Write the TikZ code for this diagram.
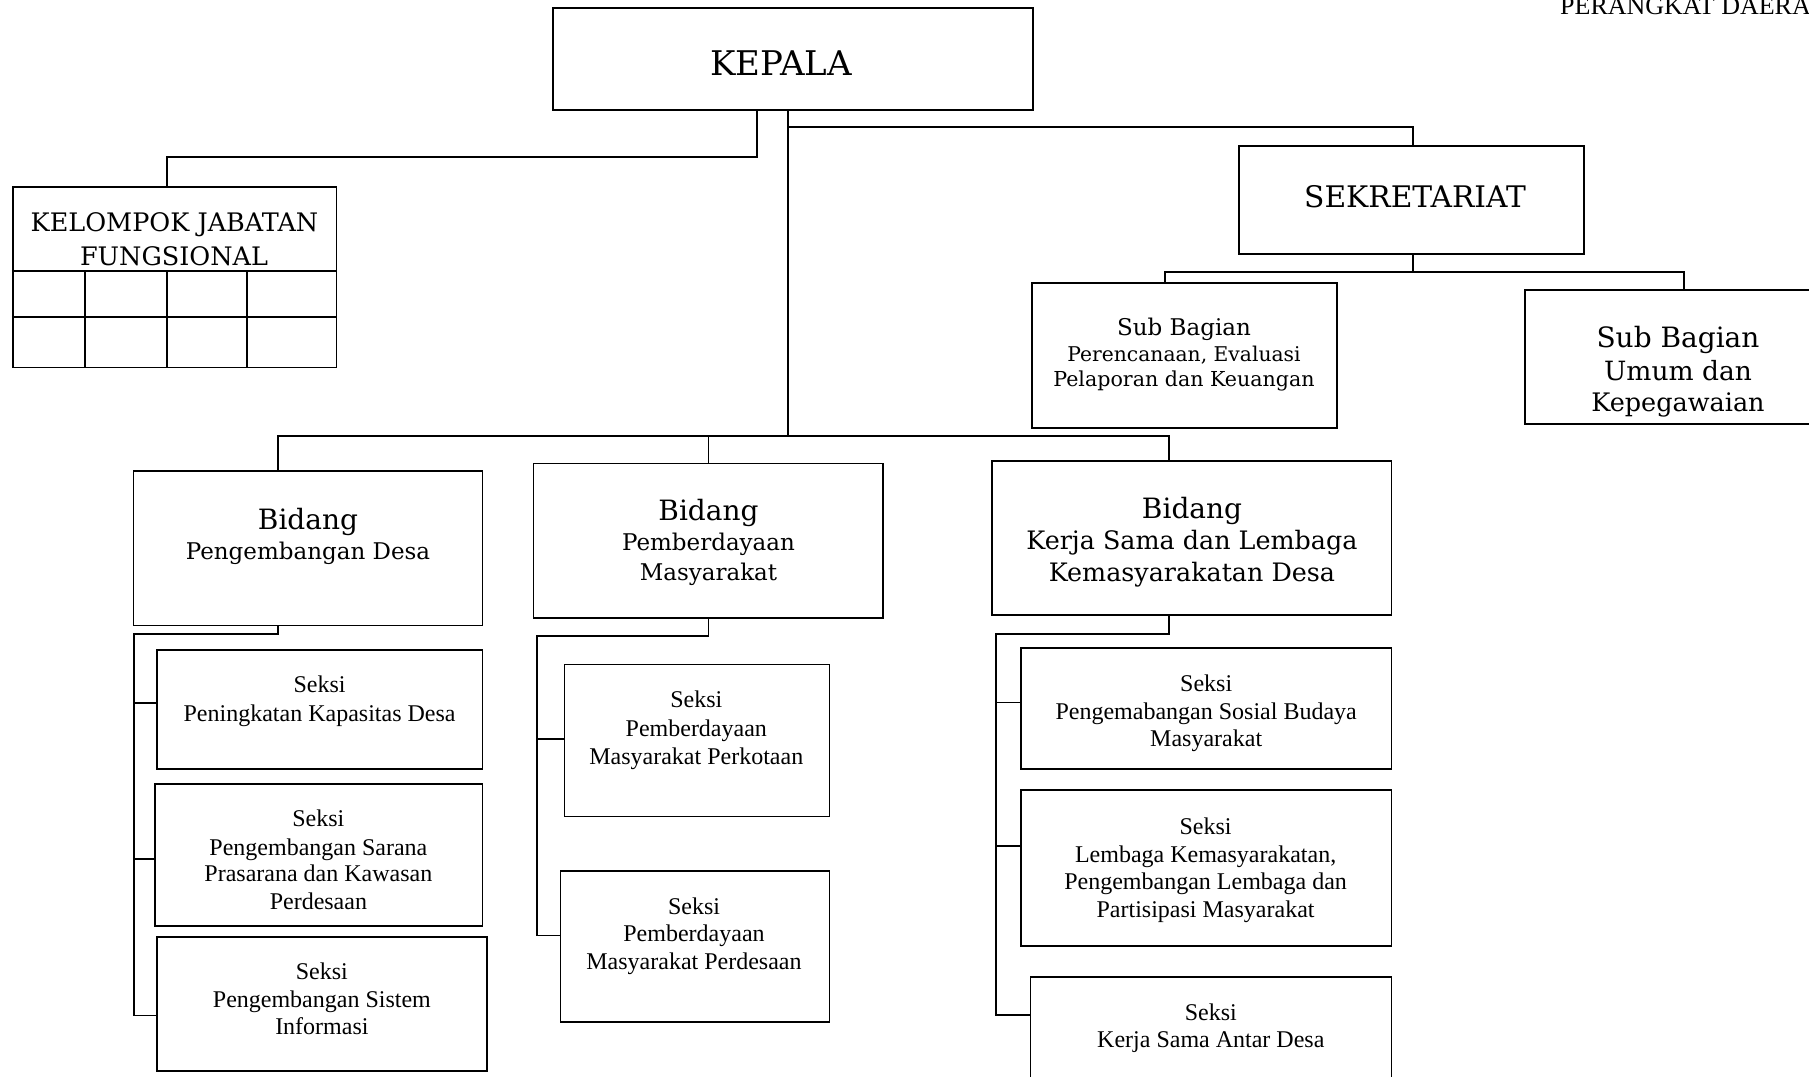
\documentclass[tikz,border=0pt]{standalone}
\usepackage{fontspec}
\setmainfont{Liberation Serif}
\newfontfamily\bkfam{DejaVu Serif}
\newcommand\BK[1]{\bkfam\fontsize{#1}{#1}\selectfont}
\newcommand\TM[1]{\rmfamily\fontsize{#1}{#1}\selectfont}
\tikzset{
  box/.style={draw, line width=1.8pt, inner sep=0pt, rectangle},
  conn/.style={line width=1.8pt},
  tl/.style={inner sep=0pt},
}
\newcommand\mytl[6]{\node[tl, font={#2{#3}}, anchor=base] (#1) at (#4,#5+0.35*#3) {#6};}
\begin{document}
\begin{tikzpicture}[x=1pt,y=-1pt]
\useasboundingbox (0,0) rectangle (1809,1076);
\fill[white] (0,0) rectangle (1809,1076);
\clip (0,0) rectangle (1809,1076);

% boxes
\node[box, minimum width=480, minimum height=102] (kepala) at (793,59) {};
\node[box, minimum width=323.8, minimum height=180.5] (kel) at (174.6,277.2) {};
\node[box, minimum width=345, minimum height=108] (sek) at (1411.5,200) {};
\node[box, minimum width=305, minimum height=145] (sb1) at (1184.5,355.5) {};
\node[box, minimum width=306, minimum height=134] (sb2) at (1678,357) {};
\node[box, minimum width=349, minimum height=154.5] (bid1) at (308,548.2) {};
\node[box, minimum width=349.5, minimum height=154.8] (bid2) at (708.2,540.9) {};
\node[box, minimum width=399.5, minimum height=154.2] (bid3) at (1191.7,538.1) {};
\node[box, minimum width=325.5, minimum height=118.7] (s11) at (319.7,709.3) {};
\node[box, minimum width=327.5, minimum height=141.3] (s12) at (318.7,855) {};
\node[box, minimum width=330, minimum height=133.6] (s13) at (322,1003.8) {};
\node[box, minimum width=265, minimum height=152] (s21) at (697,740.5) {};
\node[box, minimum width=269, minimum height=151.3] (s22) at (695,946.6) {};
\node[box, minimum width=370.5, minimum height=120.5] (s31) at (1206.2,708.4) {};
\node[box, minimum width=370.5, minimum height=155.9] (s32) at (1206.2,868.2) {};
\node[box, minimum width=361, minimum height=133.3] (s33) at (1211,1043.3) {};

% grid of kelompok
\draw[conn] (kel.west |- 0,271) -- (kel.east |- 0,271);
\draw[conn] (kel.west |- 0,317) -- (kel.east |- 0,317);
\foreach \gx in {85,166.7,246.7} \draw[conn] (\gx,271) -- (kel.south -| \gx,0);

% connectors
\coordinate (xk) at (757,157);
\draw[conn] (kepala.south -| xk) -- (xk) -| (kel.north -| 167,0);
\coordinate (bus) at (788,436);
\draw[conn] (kepala.south -| bus) -- (bus);
\coordinate (sj) at (788,127);
\draw[conn] (sj) -| (sek.north -| 1413,0);
\coordinate (sbj) at (1413,272);
\draw[conn] (sek.south -| sbj) -- (sbj);
\draw[conn] (sb1.north -| 1165,0) -- (1165,272) -- (1684,272) -- (sb2.north -| 1684,0);
\draw[conn] (bid1.north -| 278,0) -- (278,436) -- (1169,436) -- (bid3.north -| 1169,0);
\draw[conn] (bid2.north -| 708.5,0) -- (708.5,436);
% bidang 1
\draw[conn] (bid1.south -| 278,0) -- (278,634) -- (134,634) -- (134,1015.4) -- (s13.west |- 0,1015.4);
\draw[conn] (134,702.7) -- (s11.west |- 0,702.7);
\draw[conn] (134,858.8) -- (s12.west |- 0,858.8);
% bidang 2
\draw[conn] (bid2.south -| 708.5,0) -- (708.5,636) -- (537,636) -- (537,935.5) -- (s22.west |- 0,935.5);
\draw[conn] (537,738.6) -- (s21.west |- 0,738.6);
% bidang 3
\draw[conn] (bid3.south -| 1169,0) -- (1169,634) -- (996,634) -- (996,1014.6) -- (s33.west |- 0,1014.6);
\draw[conn] (996,702.5) -- (s31.west |- 0,702.5);
\draw[conn] (996,846) -- (s32.west |- 0,846);

% texts
\node[tl, font={\TM{26}}, anchor=base west] (ptitle) at (1560,14) {PERANGKAT DAERAH};
\mytl{tkep}{\BK}{34}{781}{63.5}{KEPALA}
\mytl{tsek}{\BK}{29.7}{1415}{197}{SEKRETARIAT}
\mytl{tkel1}{\BK}{25.5}{174.5}{223}{KELOMPOK JABATAN}
\mytl{tkel2}{\BK}{25.5}{174}{257}{FUNGSIONAL}
\mytl{tsb1a}{\BK}{23}{1184}{327.6}{Sub Bagian}
\mytl{tsb1b}{\BK}{20.3}{1184}{354}{Perencanaan, Evaluasi}
\mytl{tsb1c}{\BK}{20.6}{1184}{379.6}{Pelaporan dan Keuangan}
\mytl{tsb2a}{\BK}{28}{1678}{338}{Sub Bagian}
\mytl{tsb2b}{\BK}{26.5}{1678}{371.5}{Umum dan}
\mytl{tsb2c}{\BK}{25.5}{1678}{402.6}{Kepegawaian}
\mytl{tb1a}{\BK}{28}{308}{520}{Bidang}
\mytl{tb1b}{\BK}{23}{308}{551.5}{Pengembangan Desa}
\mytl{tb2a}{\BK}{28}{708.5}{511}{Bidang}
\mytl{tb2b}{\BK}{23}{708.5}{542}{Pemberdayaan}
\mytl{tb2c}{\BK}{23}{708.5}{572}{Masyarakat}
\mytl{tb3a}{\BK}{28}{1192}{508.8}{Bidang}
\mytl{tb3b}{\BK}{25.4}{1192}{541}{Kerja Sama dan Lembaga}
\mytl{tb3c}{\BK}{25.4}{1192}{573}{Kemasyarakatan Desa}

\mytl{t11a}{\TM}{24}{319.6}{684.1}{Seksi}
\mytl{t11b}{\TM}{24}{319.6}{713}{Peningkatan Kapasitas Desa}
\mytl{t12a}{\TM}{24}{318.4}{818}{Seksi}
\mytl{t12b}{\TM}{24}{318.4}{847}{Pengembangan Sarana}
\mytl{t12c}{\TM}{24}{318.4}{873.4}{Prasarana dan Kawasan}
\mytl{t12d}{\TM}{24}{318.4}{901}{Perdesaan}
\mytl{t13a}{\TM}{24}{321.9}{971.4}{Seksi}
\mytl{t13b}{\TM}{24}{321.9}{999.1}{Pengembangan Sistem}
\mytl{t13c}{\TM}{24}{321.9}{1025.6}{Informasi}
\mytl{t21a}{\TM}{24}{696.3}{699.1}{Seksi}
\mytl{t21b}{\TM}{24}{696.3}{728}{Pemberdayaan}
\mytl{t21c}{\TM}{24}{696.3}{755.7}{Masyarakat Perkotaan}
\mytl{t22a}{\TM}{24}{694}{905.7}{Seksi}
\mytl{t22b}{\TM}{24}{694}{933.3}{Pemberdayaan}
\mytl{t22c}{\TM}{24}{694}{961}{Masyarakat Perdesaan}
\mytl{t31a}{\TM}{24}{1206.2}{683}{Seksi}
\mytl{t31b}{\TM}{24}{1206.2}{710.7}{Pengemabangan Sosial Budaya}
\mytl{t31c}{\TM}{24}{1206.2}{738.4}{Masyarakat}
\mytl{t32a}{\TM}{24}{1205.6}{826}{Seksi}
\mytl{t32b}{\TM}{24}{1205.6}{853.7}{Lembaga Kemasyarakatan,}
\mytl{t32c}{\TM}{24}{1205.6}{881.4}{Pengembangan Lembaga dan}
\mytl{t32d}{\TM}{24}{1205.6}{909}{Partisipasi Masyarakat}
\mytl{t33a}{\TM}{24}{1210.8}{1012.5}{Seksi}
\mytl{t33b}{\TM}{24}{1210.8}{1039.5}{Kerja Sama Antar Desa}
\end{tikzpicture}
\end{document}
